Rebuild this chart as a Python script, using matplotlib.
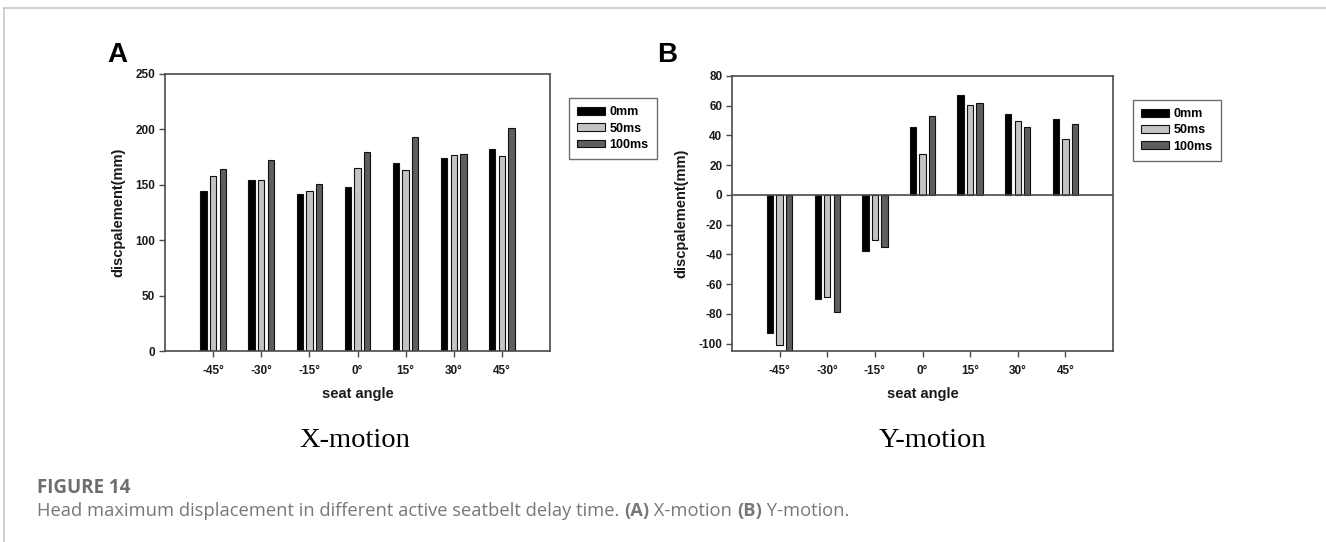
import matplotlib
matplotlib.use("Agg")
import matplotlib.pyplot as plt
from matplotlib.lines import Line2D
import numpy as np

# Seat angle categories and delay-time series
angles = ["-45°", "-30°", "-15°", "0°", "15°", "30°", "45°"]
series = ["0mm", "50ms", "100ms"]

# Panel A: X-motion head displacement (mm)
x_0mm = [144, 154, 142, 148, 170, 174, 182]
x_50ms = [158, 154, 144, 165, 163, 177, 176]
x_100ms = [164, 172, 151, 180, 193, 178, 201]

# Panel B: Y-motion head displacement (mm)
y_0mm = [-93, -70, -38, 46, 67.5, 54.5, 51]
y_50ms = [-101, -68.5, -30, 27.5, 60.5, 50, 37.5]
y_100ms = [-108, -79, -35, 53, 62, 45.5, 48]

colors = ["#000000", "#c4c4c4", "#5e5e5e"]
spine_col = "#4a4a4a"
W, H = 1326, 542

plt.rcParams["font.family"] = ["Liberation Sans", "DejaVu Sans"]
plt.rcParams["axes.unicode_minus"] = False
fig = plt.figure(figsize=(W / 100, H / 100), dpi=100)


def fx(px):
    return px / W


def fy(py):
    return 1 - py / H


def panel(rect, data, ylim, yticks, leg_xy):
    ax = fig.add_axes(rect)
    x = np.arange(len(angles))
    width = 0.135
    offs = [-0.2, 0.0, 0.2]
    handles = []
    for vals, off, c, name in zip(data, offs, colors, series):
        b = ax.bar(x + off, vals, width, color=c, edgecolor="#111111",
                   linewidth=0.8, label=name)
        handles.append(b)
    ax.set_xlim(-1, 7)
    ax.set_ylim(*ylim)
    ax.set_yticks(yticks)
    ax.set_xticks(x)
    ax.set_xticklabels(angles)
    for s in ax.spines.values():
        s.set_color(spine_col)
        s.set_linewidth(1.2)
    ax.tick_params(direction="out", length=4, width=1.0, color=spine_col,
                   labelsize=8.5, pad=3)
    ax.tick_params(axis="x", pad=6)
    for lab in ax.get_xticklabels() + ax.get_yticklabels():
        lab.set_fontweight("bold")
        lab.set_color("#1a1a1a")
    ax.set_xlabel("seat angle", fontsize=10.5, fontweight="bold", labelpad=7,
                  color="#1a1a1a")
    ax.set_ylabel("discpalement(mm)", fontsize=10.5, fontweight="bold",
                  labelpad=7, color="#1a1a1a")
    leg = ax.legend(handles=handles, loc="upper left",
                    bbox_to_anchor=(fx(leg_xy[0]), fy(leg_xy[1])),
                    bbox_transform=fig.transFigure, borderaxespad=0,
                    prop={"weight": "bold", "size": 9}, frameon=True,
                    fancybox=False, edgecolor=spine_col, handlelength=2.2,
                    handleheight=0.6, handletextpad=0.4, labelspacing=0.35,
                    borderpad=0.65)
    leg.get_frame().set_linewidth(1.0)
    return ax


axA = panel([fx(165), fy(351), fx(550) - fx(165), (351 - 74) / H],
            [x_0mm, x_50ms, x_100ms], (0, 250), [0, 50, 100, 150, 200, 250],
            (569, 98))
axB = panel([fx(732), fy(351), fx(1113) - fx(732), (351 - 76) / H],
            [y_0mm, y_50ms, y_100ms], (-105, 80),
            [-100, -80, -60, -40, -20, 0, 20, 40, 60, 80], (1133, 100))
axB.axhline(0, color=spine_col, linewidth=1.2, zorder=3)

# Panel letters
fig.text(fx(107), fy(62), "A", fontsize=20, fontweight="bold", ha="left",
         va="baseline")
fig.text(fx(657), fy(62), "B", fontsize=20, fontweight="bold", ha="left",
         va="baseline")

# Panel subtitles
fig.text(fx(355), fy(447), "X-motion", fontsize=20.5,
         family="Liberation Serif", ha="center", va="baseline")
fig.text(fx(932), fy(447), "Y-motion", fontsize=20.5,
         family="Liberation Serif", ha="center", va="baseline")

# Caption block
cap_font = ["Open Sans", "DejaVu Sans"]
fig.text(fx(37), fy(493), "FIGURE 14", fontsize=13.5, fontweight="bold",
         family=cap_font, color="#6e6e6e", ha="left", va="baseline")

pieces = [("Head maximum displacement in different active seatbelt delay time. ", "normal"),
          ("(A)", "bold"), (" X-motion ", "normal"), ("(B)", "bold"),
          (" Y-motion.", "normal")]
renderer = fig.canvas.get_renderer()
xpos = 37
for txt, wt in pieces:
    t = fig.text(fx(xpos), fy(516), txt, fontsize=13.2, fontweight=wt,
                 family=cap_font, color="#787878", ha="left", va="baseline")
    bb = t.get_window_extent(renderer)
    xpos += bb.width

# Frame lines along the top and left edges
fig.add_artist(Line2D([fx(4), 1], [fy(8), fy(8)], color="#c8c8c8",
                      linewidth=1.2, transform=fig.transFigure))
fig.add_artist(Line2D([fx(4), fx(4)], [fy(8), 0], color="#c8c8c8",
                      linewidth=1.2, transform=fig.transFigure))

fig.savefig("out.png", dpi=100)
